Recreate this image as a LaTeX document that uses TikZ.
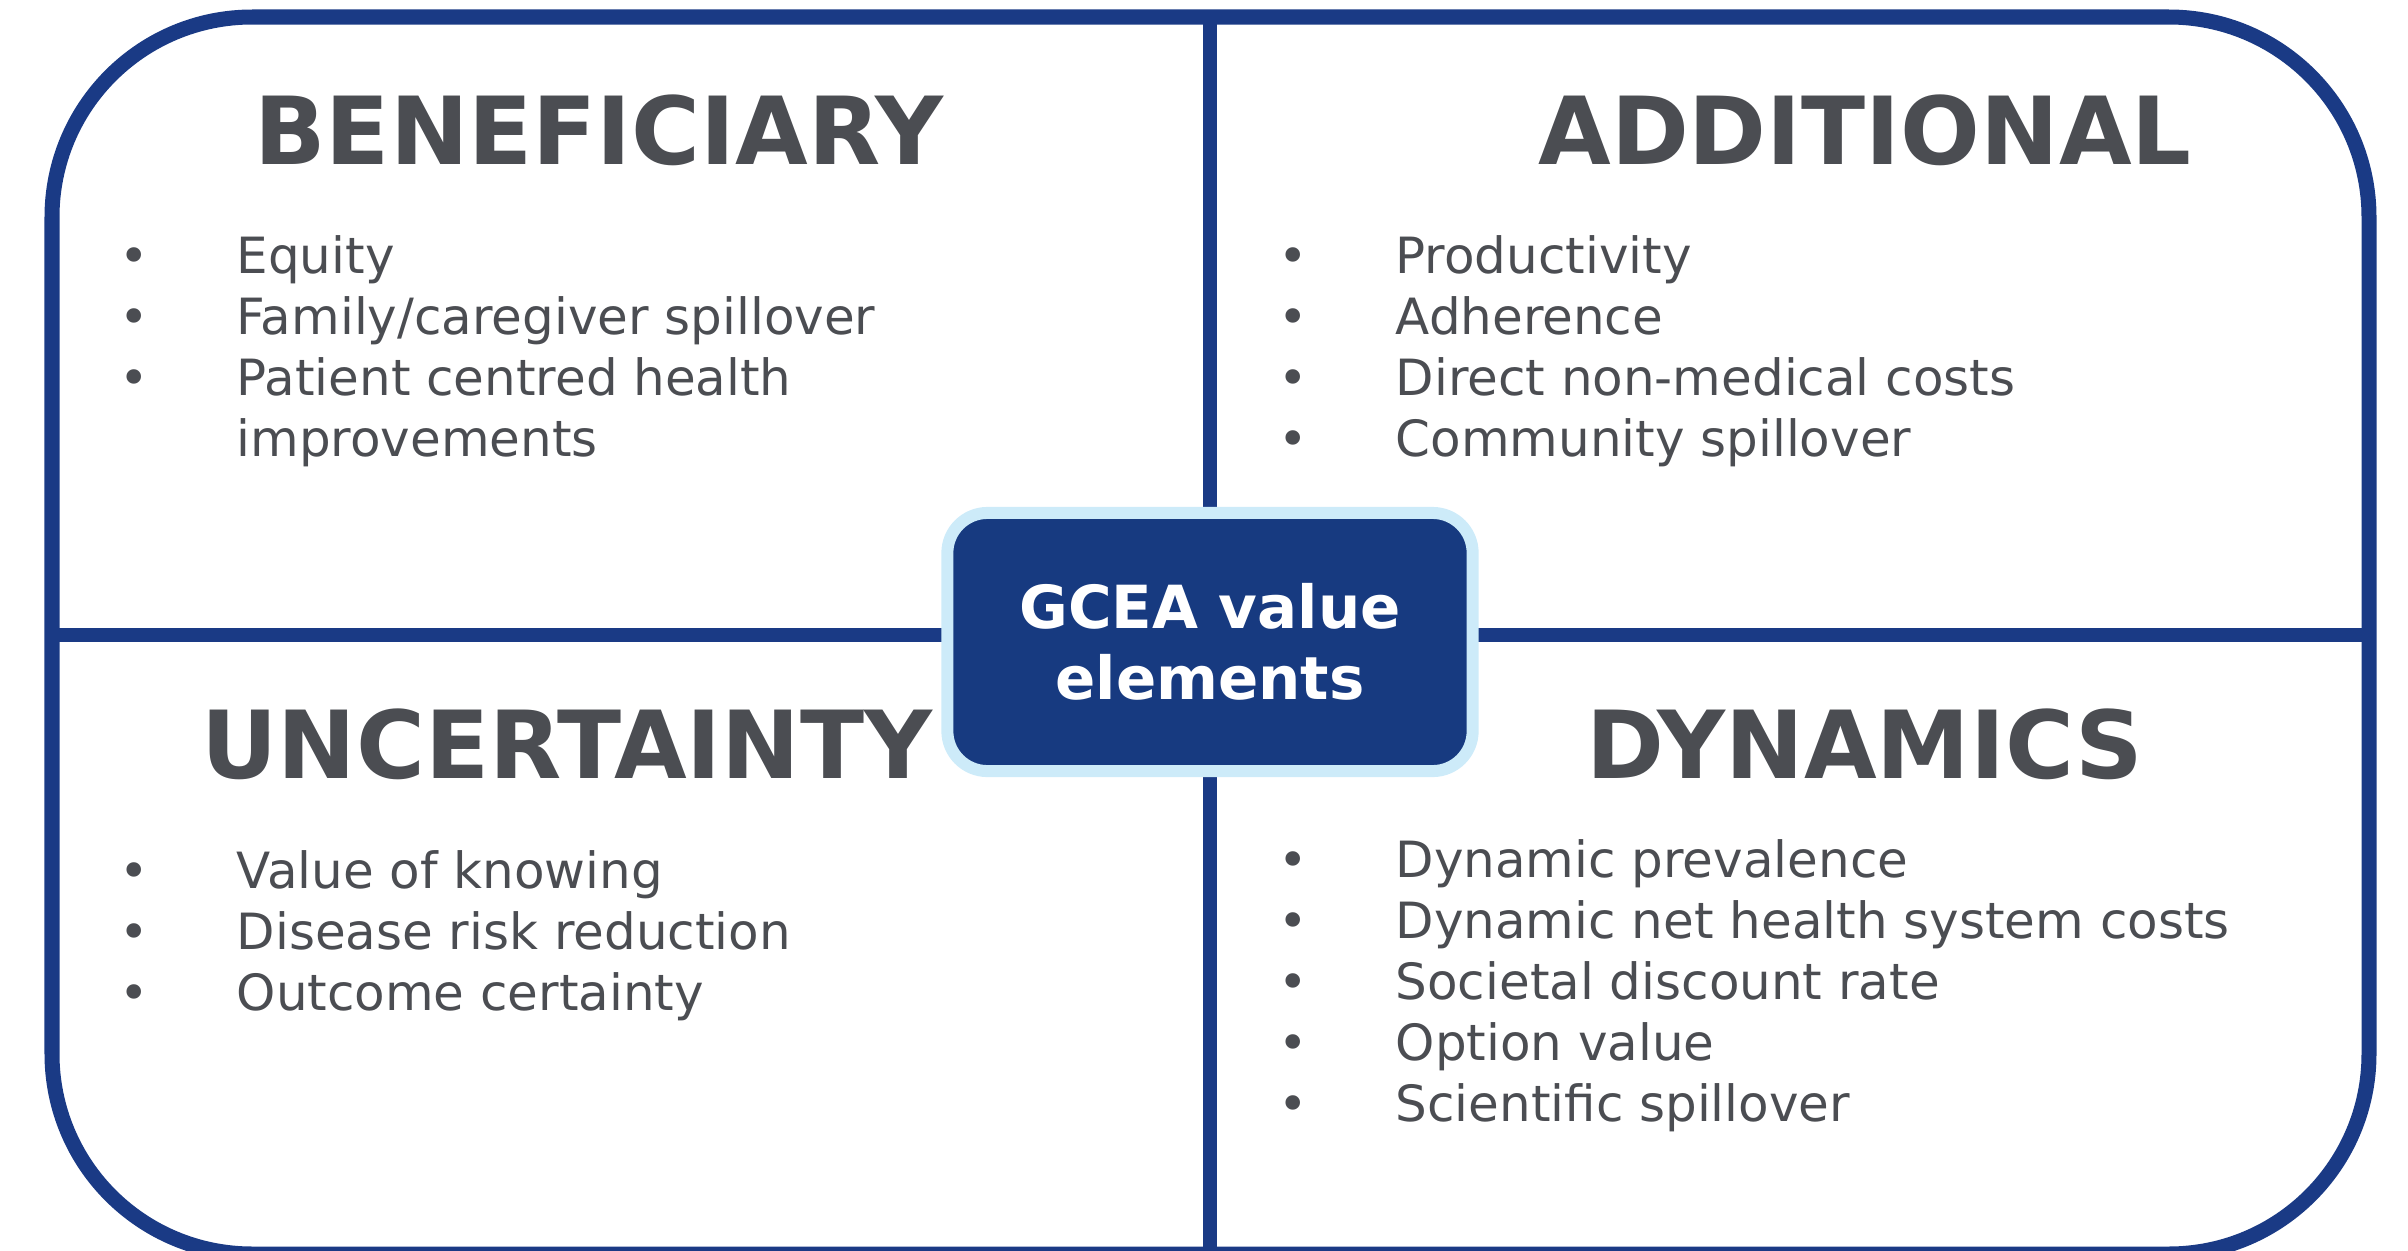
\documentclass[tikz,border=0pt]{standalone}
\usepackage{fontspec}
\setmainfont{DejaVu Sans}
\definecolor{navy}{HTML}{1A3A85}
\definecolor{boxblue}{HTML}{173A80}
\definecolor{paleblue}{HTML}{CDEBF9}
\definecolor{ink}{HTML}{4B4D52}

\begin{document}
\begin{tikzpicture}[x=0.01cm, y=-0.01cm,
    head/.style={anchor=base, inner sep=0, text=ink,
      font=\fontsize{26.7}{32}\selectfont\bfseries},
    item/.style={anchor=base west, inner sep=0, text=ink,
      font=\fontsize{14.2}{17}\selectfont},
    dot/.style={anchor=base, inner sep=0, text=ink,
      font=\fontsize{14.2}{17}\selectfont}]
  \useasboundingbox (0,0) rectangle (2408,1251);
  % frame and the two dividers
  \draw[navy, line width=0.15cm, rounded corners=2cm]
       (52,17) rectangle (2369,1254);
  \draw[navy, line width=0.14cm] (1210,17) -- (1210,1254);
  \draw[navy, line width=0.14cm] (52,635) -- (2369,635);
  % centre box
  \node[fill=boxblue, draw=paleblue, line width=0.12cm,
       rounded corners=0.4cm, minimum width=5.25cm,
       minimum height=2.58cm, align=center, text=white,
       font=\fontsize{16.9}{20.1}\selectfont\bfseries]
       (gcea) at (1210,642) {GCEA value\\elements};
  % headings
  \node[head] (ben) at (599,164) {BENEFICIARY};
  \node[head] (add) at (1865,164) {ADDITIONAL};
  \node[head] (unc) at (567,778) {UNCERTAINTY};
  \node[head] (dyn) at (1865,778) {DYNAMICS};
  % bullet lists
  \foreach \txt [count=\i from 0] in
       {Equity, {Family/caregiver spillover}, Patient centred health} {
    \node[dot] (bd\i) at (134,273+61*\i) {\textbullet};
    \node[item] (bt\i) at (236,273+61*\i) {\txt};
  }
  \node[item] (bt3) at (236,456) {improvements};
  \foreach \txt [count=\i from 0] in
       {Productivity, Adherence, Direct non-medical costs,
        Community spillover} {
    \node[dot] (ad\i) at (1293,273+61*\i) {\textbullet};
    \node[item] (at\i) at (1395,273+61*\i) {\txt};
  }
  \foreach \txt [count=\i from 0] in
       {Value of knowing, Disease risk reduction, Outcome certainty} {
    \node[dot] (ud\i) at (134,888+61*\i) {\textbullet};
    \node[item] (ut\i) at (236,888+61*\i) {\txt};
  }
  \foreach \txt [count=\i from 0] in
       {Dynamic prevalence, Dynamic net health system costs,
        Societal discount rate, Option value, Scientific spillover} {
    \node[dot] (dd\i) at (1293,877+61*\i) {\textbullet};
    \node[item] (dt\i) at (1395,877+61*\i) {\txt};
  }
\end{tikzpicture}
\end{document}
